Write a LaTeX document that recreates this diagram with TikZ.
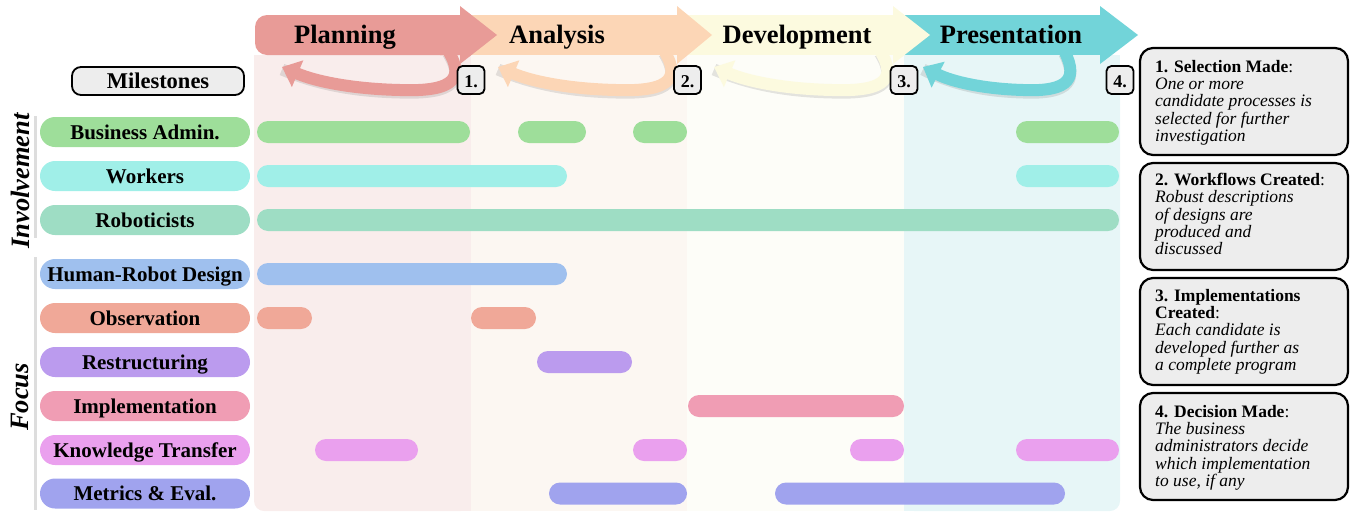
\documentclass[tikz,border=0pt]{standalone}
\usepackage{fontspec}
\setmainfont{Liberation Serif}
\usetikzlibrary{arrows.meta}
\definecolor{arP}{HTML}{E89B97}
\definecolor{arA}{HTML}{FCD6B6}
\definecolor{arD}{HTML}{FCFADF}
\definecolor{arR}{HTML}{72D4D9}
\definecolor{bgP}{HTML}{F9EDEC}
\definecolor{bgA}{HTML}{FCF7F2}
\definecolor{bgD}{HTML}{FDFDF8}
\definecolor{bgR}{HTML}{E7F6F7}
\definecolor{cBA}{HTML}{9EDE9A}
\definecolor{cWO}{HTML}{A0EFE8}
\definecolor{cRO}{HTML}{9EDDC4}
\definecolor{cHR}{HTML}{9FC0EE}
\definecolor{cOB}{HTML}{F0A898}
\definecolor{cRE}{HTML}{BB9BEE}
\definecolor{cIM}{HTML}{F09DB4}
\definecolor{cKT}{HTML}{EAA0EE}
\definecolor{cME}{HTML}{A0A3EE}
\definecolor{boxfill}{HTML}{EDEDED}
\definecolor{sideline}{HTML}{DDDDDD}
\newcommand\tlbar[5]{\node[barnode, fill=#1, minimum width={#4-#3}] (#5) at ({(#3+#4)/2},#2) {};}
% loop path: x0, x-scale
\newcommand\looppath[2]{({#1+#2*190},46) .. controls ({#1+#2*212},78) and ({#1+#2*200},92) .. ({#1+#2*145},90) .. controls ({#1+#2*100},89) and ({#1+#2*62},82) .. ({#1+#2*27},67)}
\begin{document}
\begin{tikzpicture}[x=1pt,y=-1pt,
  barnode/.style={rectangle, rounded corners=11pt, minimum height=22pt, inner sep=0pt, outer sep=0pt},
  rowlabel/.style={rectangle, rounded corners=15pt, minimum width=210pt, minimum height=30pt, inner sep=0pt, text height=14pt, text depth=0pt, font=\bfseries\fontsize{21}{21}\selectfont},
  mkbox/.style={draw, line width=1.8pt, rounded corners=5pt, fill=boxfill, minimum width=27pt, minimum height=28pt, inner sep=0pt, text height=14pt, text depth=0pt, font=\bfseries\fontsize{18}{18}\selectfont},
  rbox/.style={draw, line width=2.2pt, rounded corners=13pt, fill=boxfill, minimum width=208pt, inner sep=0pt},
  rtext/.style={anchor=north west, align=left, inner sep=0pt, font=\fontsize{17.5}{17.3}\selectfont},
  phase/.style={anchor=base, font=\bfseries\fontsize{26.5}{27}\selectfont, inner sep=0pt},
  side/.style={rotate=90, font=\bfseries\itshape\fontsize{26.5}{26.5}\selectfont, inner sep=0pt},
  loopshadow/.style={line width=12pt, black, opacity=.10},
  looparrow/.style={line width=12pt, -{Triangle[width=28pt,length=17pt]}}]
\useasboundingbox (0,0) rectangle (1353,512);
% column backgrounds
\fill[bgP, rounded corners=10pt] (254,55) rectangle (470.5,511);
\fill[bgP] (254,55) rectangle (470.5,300);
\fill[bgP] (300,55) rectangle (470.5,511);
\fill[bgA] (470.5,55) rectangle (687,511);
\fill[bgD] (687,55) rectangle (904,511);
\fill[bgR, rounded corners=10pt] (904,55) rectangle (1120,511);
\fill[bgR] (904,55) rectangle (1120,300);
\fill[bgR] (904,55) rectangle (1080,511);
% loop shadows (below the arrow bodies)
\begin{scope}
\clip (0,56) rectangle (1353,512);
\begin{scope}[transform canvas={yshift=-2.5pt}]
\draw[loopshadow] \looppath{255}{1};
\draw[loopshadow] \looppath{471}{1};
\draw[loopshadow] \looppath{687}{1};
\draw[loopshadow] \looppath{900}{0.85};
\end{scope}
\end{scope}
% phase arrows (right to left so each head lies over the next body)
\fill[arR] (877,15) rectangle (1101,55);
\fill[arR] (1100,6) -- (1138,35) -- (1100,64) -- cycle;
\fill[arD] (660,15) rectangle (894,55);
\fill[arD] (893,6) -- (930,35) -- (893,64) -- cycle;
\fill[arA] (445,15) rectangle (678,55);
\fill[arA] (677,6) -- (712,35) -- (677,64) -- cycle;
\fill[arP, rounded corners=12pt] (255,15) rectangle (470,55);
\fill[arP] (440,15) -- (460,15) -- (460,6) -- (497,35) -- (460,64) -- (460,55) -- (440,55) -- cycle;
% return loops
\draw[looparrow, arR] \looppath{900}{0.85};
\draw[looparrow, arD] \looppath{687}{1};
\draw[looparrow, arA] \looppath{471}{1};
\draw[looparrow, arP] \looppath{255}{1};
\node[phase] (pPlan) at (345,43) {Planning};
\node[phase] (pAna) at (557,43) {Analysis};
\node[phase] (pDev) at (797,43) {Development};
\node[phase] (pPres) at (1011,43) {Presentation};
% milestones
\node[mkbox, minimum width=172pt, rounded corners=9pt, font=\bfseries\fontsize{22.5}{22.5}\selectfont, text height=15pt] (miles) at (158,81) {Milestones};
\node[mkbox] (m1) at (471,80) {1.};
\node[mkbox] (m2) at (687.5,80) {2.};
\node[mkbox] (m3) at (904,80) {3.};
\node[mkbox] (m4) at (1120,80) {4.};
% side labels
\draw[line width=3pt, sideline] (35,116) -- (35,238);
\draw[line width=3pt, sideline] (35,257) -- (35,510);
\node[side] (inv) at (20,181) {Involvement};
\node[side] (foc) at (20,397) {Focus};
% row labels
\node[rowlabel, fill=cBA] (lBA) at (145,132) {Business Admin.};
\node[rowlabel, fill=cWO] (lWO) at (145,176) {Workers};
\node[rowlabel, fill=cRO] (lRO) at (145,220) {Roboticists};
\node[rowlabel, fill=cHR] (lHR) at (145,274) {Human-Robot Design};
\node[rowlabel, fill=cOB] (lOB) at (145,318) {Observation};
\node[rowlabel, fill=cRE] (lRE) at (145,362) {Restructuring};
\node[rowlabel, fill=cIM] (lIM) at (145,406) {Implementation};
\node[rowlabel, fill=cKT] (lKT) at (145,450) {Knowledge Transfer};
\node[rowlabel, fill=cME] (lME) at (145,493.5) {Metrics \& Eval.};
% bars
\tlbar{cBA}{132}{257}{470}{bBA1}
\tlbar{cBA}{132}{518}{586}{bBA2}
\tlbar{cBA}{132}{633}{687}{bBA3}
\tlbar{cBA}{132}{1016}{1119}{bBA4}
\tlbar{cWO}{176}{257}{567}{bWO1}
\tlbar{cWO}{176}{1016}{1119}{bWO2}
\tlbar{cRO}{220}{257}{1119}{bRO1}
\tlbar{cHR}{274}{257}{567}{bHR1}
\tlbar{cOB}{318}{257}{312}{bOB1}
\tlbar{cOB}{318}{471}{536}{bOB2}
\tlbar{cRE}{362}{537}{632}{bRE1}
\tlbar{cIM}{406}{688}{904}{bIM1}
\tlbar{cKT}{450}{315}{418}{bKT1}
\tlbar{cKT}{450}{633}{687}{bKT2}
\tlbar{cKT}{450}{850}{904}{bKT3}
\tlbar{cKT}{450}{1016}{1119}{bKT4}
\tlbar{cME}{493.5}{549}{687}{bME1}
\tlbar{cME}{493.5}{775}{1065}{bME2}
% right boxes
\node[rbox, minimum height=107pt] (r1) at (1244,101.5) {};
\node[rbox, minimum height=107pt] (r2) at (1244,216.5) {};
\node[rbox, minimum height=107pt] (r3) at (1244,331.5) {};
\node[rbox, minimum height=107pt] (r4) at (1244,446.5) {};
\node[rtext] (t1) at (1155,60) {\textbf{1. Selection Made}:\\\textit{One or more}\\\textit{candidate processes is}\\\textit{selected for further}\\\textit{investigation}};
\node[rtext] (t2) at (1155,173) {\textbf{2. Workflows Created}:\\\textit{Robust descriptions}\\\textit{of designs are}\\\textit{produced and}\\\textit{discussed}};
\node[rtext] (t3) at (1155,289) {\textbf{3. Implementations}\\\textbf{Created}:\\\textit{Each candidate is}\\\textit{developed further as}\\\textit{a complete program}};
\node[rtext] (t4) at (1155,405) {\textbf{4. Decision Made}:\\\textit{The business}\\\textit{administrators decide}\\\textit{which implementation}\\\textit{to use, if any}};
\end{tikzpicture}
\end{document}
